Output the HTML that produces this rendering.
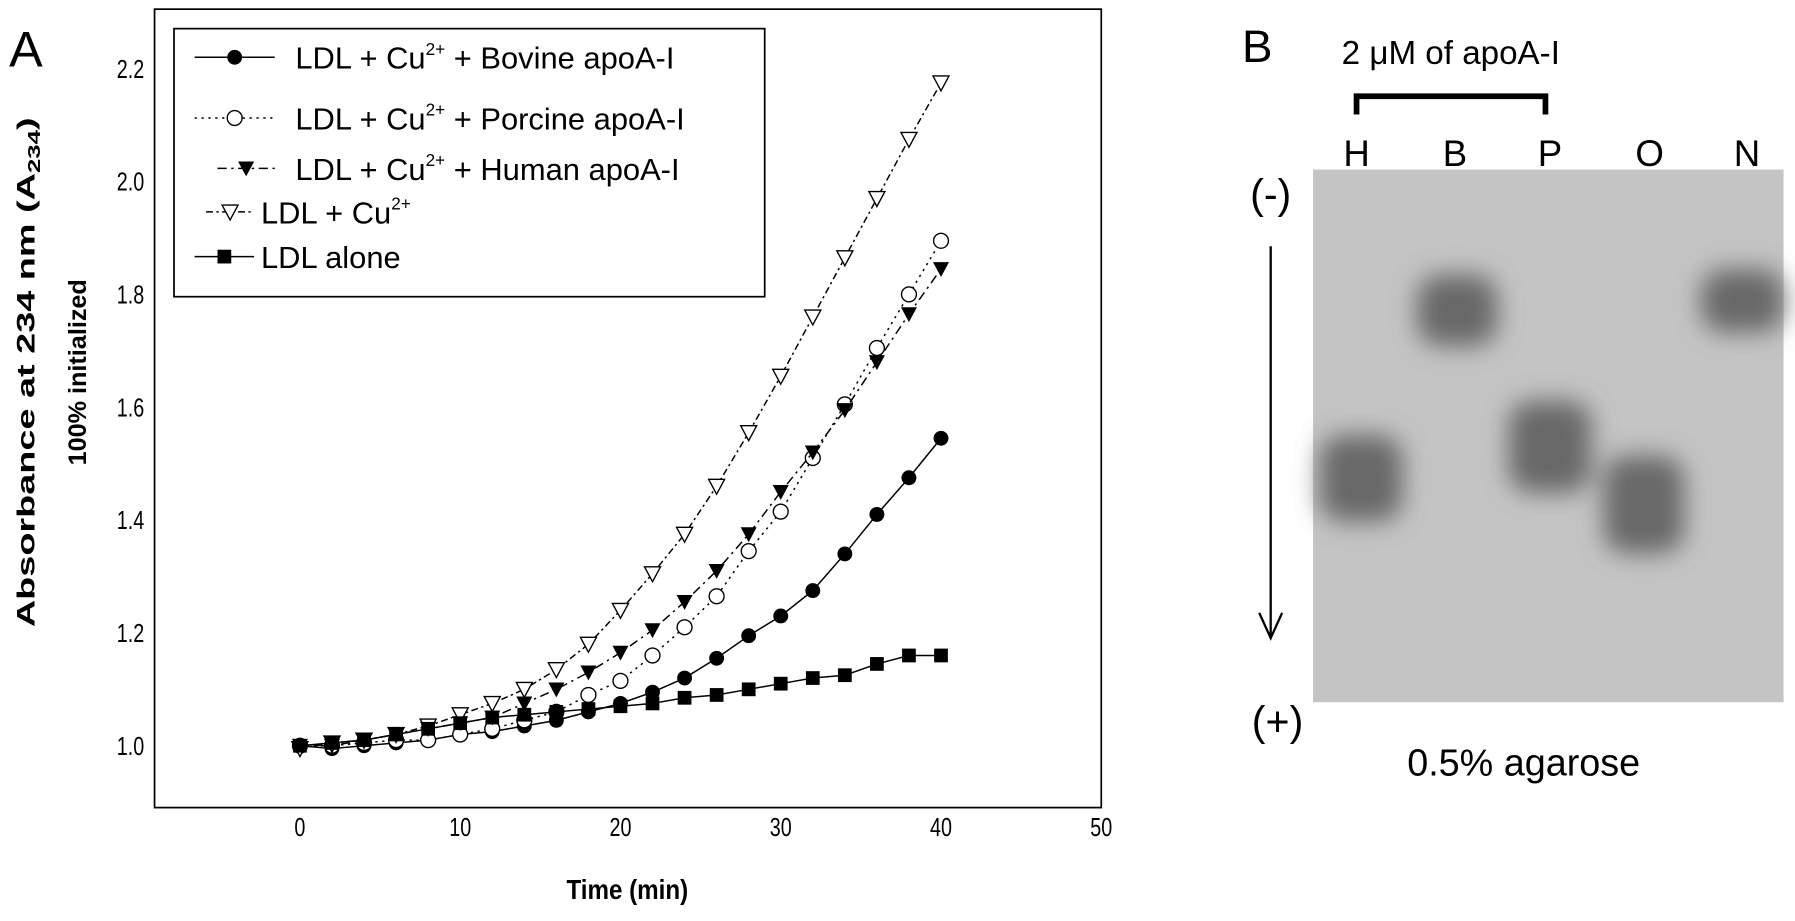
<!DOCTYPE html>
<html><head><meta charset="utf-8"><style>
html,body{margin:0;padding:0;background:#fff;}
svg{display:block;font-family:"Liberation Sans",sans-serif;}
</style></head><body>
<svg id="fig" width="1795" height="921" viewBox="0 0 1568 804" preserveAspectRatio="none">
<defs>
<filter id="blur" x="-50%" y="-50%" width="200%" height="200%"><feGaussianBlur stdDeviation="11"/></filter>
</defs>
<text x="8" y="58" font-size="44">A</text>
<rect x="135" y="8" width="827" height="697" fill="none" stroke="#000" stroke-width="1.5"/>
<g id="axes"></g>
<g id="series"></g>
<text x="548" y="785" font-size="24" font-weight="bold" text-anchor="middle" transform="translate(548 0) scale(0.88 1) translate(-548 0)">Time (min)</text>
<g transform="translate(30 325) rotate(-90)">
<text x="0" y="0" font-size="22" font-weight="bold" text-anchor="middle" textLength="445" lengthAdjust="spacingAndGlyphs">Absorbance at 234 nm (A<tspan font-size="15" dy="5">234</tspan><tspan dy="-5">)</tspan></text>
<text x="0" y="45" font-size="22" font-weight="bold" text-anchor="middle">100% initialized</text>
</g>
<rect x="152" y="25" width="516" height="234" fill="#fff" stroke="#000" stroke-width="1.5"/>
<g id="legend"></g>

<text x="1085" y="54" font-size="40">B</text>
<text x="1172" y="56" font-size="29">2 μM of apoA-I</text>
<path d="M1185 100 V84 H1350 V100" fill="none" stroke="#000" stroke-width="5"/>
<g font-size="32" text-anchor="middle">
<text x="1185" y="145">H</text><text x="1271" y="145">B</text><text x="1354" y="145">P</text><text x="1441" y="145">O</text><text x="1526" y="145">N</text>
</g>
<rect x="1147" y="148" width="411" height="465" fill="#c4c4c4"/>
<g filter="url(#blur)" fill="#676767">
<rect x="1153" y="380" width="72" height="75" rx="20"/>
<rect x="1238" y="240" width="70" height="62" rx="20"/>
<rect x="1318" y="350" width="72" height="80" rx="20"/>
<rect x="1401" y="398" width="70" height="85" rx="20"/>
<rect x="1486" y="235" width="72" height="55" rx="20"/>
</g>
<text x="1110" y="182" font-size="36" text-anchor="middle">(-)</text>
<line x1="1110" y1="215" x2="1110" y2="555" stroke="#000" stroke-width="2"/>
<path d="M1100 535 L1110 557 L1120 535" fill="none" stroke="#000" stroke-width="2"/>
<text x="1116" y="642" font-size="36" text-anchor="middle">(+)</text>
<text x="1331" y="677" font-size="33" text-anchor="middle">0.5% agarose</text>
</svg>
<script>
const times=[0,2,4,6,8,10,12,14,16,18,20,22,24,26,28,30,32,34,36,38,40];
const bovine=[1.0,0.995,1.0,1.005,1.01,1.02,1.025,1.035,1.045,1.06,1.075,1.095,1.12,1.155,1.195,1.23,1.275,1.34,1.41,1.475,1.545];
const porcine=[1.0,1.0,1.005,1.01,1.01,1.02,1.03,1.045,1.06,1.09,1.115,1.16,1.21,1.265,1.345,1.415,1.51,1.605,1.705,1.8,1.895];
const human=[1.0,1.0,1.01,1.02,1.03,1.04,1.05,1.075,1.1,1.13,1.165,1.205,1.255,1.31,1.375,1.45,1.52,1.595,1.68,1.765,1.845];
const copper=[0.995,1.005,1.01,1.02,1.035,1.055,1.075,1.1,1.135,1.18,1.24,1.305,1.375,1.46,1.555,1.655,1.76,1.865,1.97,2.075,2.175];
const alone=[1.0,1.005,1.01,1.02,1.03,1.04,1.05,1.055,1.06,1.065,1.07,1.075,1.085,1.09,1.1,1.11,1.12,1.125,1.145,1.16,1.16];
const xTicks=[0,10,20,30,40,50];
const yTicks=[1.0,1.2,1.4,1.6,1.8,2.0,2.2];
const NS="http://www.w3.org/2000/svg";
const xs=v=>262+v*14;
const ys=v=>651-(v-1)*492.5;
function mk(t,a,p){const e=document.createElementNS(NS,t);for(const k in a)e.setAttribute(k,a[k]);p.appendChild(e);return e;}
const ax=document.getElementById('axes');
xTicks.forEach(t=>{
 const e=mk('text',{x:xs(t),y:730,'font-size':23,'text-anchor':'middle',transform:`translate(${xs(t)} 0) scale(0.75 1) translate(${-xs(t)} 0)`},ax);
 
 
 e.textContent=t;
});
yTicks.forEach(t=>{
 const e=mk('text',{x:126,y:ys(t)+8,'font-size':23,'text-anchor':'end',transform:`translate(126 0) scale(0.75 1) translate(-126 0)`},ax);
 
 
 e.textContent=t.toFixed(1);
});
function marker(g,type,x,y){
 let e;
 if(type==='fc')e=mk('circle',{cx:x,cy:y,r:6.5,fill:'#000'},g);
 else if(type==='oc')e=mk('circle',{cx:x,cy:y,r:6.5,fill:'#fff',stroke:'#000','stroke-width':1.2},g);
 else if(type==='ft')e=mk('path',{d:`M${x-7} ${y-6}L${x+7} ${y-6}L${x} ${y+7}Z`,fill:'#000'},g);
 else if(type==='ot')e=mk('path',{d:`M${x-7} ${y-6}L${x+7} ${y-6}L${x} ${y+7}Z`,fill:'#fff',stroke:'#000','stroke-width':1.2},g);
 else e=mk('rect',{x:x-6,y:y-6,width:12,height:12,fill:'#000'},g);
 return e;
}
const defs=[
 {name:'bovine',data:bovine,m:'fc',dash:'',label:['LDL + Cu','2+',' + Bovine apoA-I'],ly:50,lx:[170,240],tx:258},
 {name:'porcine',data:porcine,m:'oc',dash:'2 4',label:['LDL + Cu','2+',' + Porcine apoA-I'],ly:103,lx:[170,240],tx:258},
 {name:'human',data:human,m:'ft',dash:'8 4 2 4',label:['LDL + Cu','2+',' + Human apoA-I'],ly:147,lx:[190,240],tx:258},
 {name:'copper',data:copper,m:'ot',dash:'6 3 2 3',label:['LDL + Cu','2+',''],ly:185,lx:[180,222],tx:228},
 {name:'alone',data:alone,m:'sq',dash:'',label:['LDL alone','',''],ly:224,lx:[170,222],tx:228}
];
const sg=document.getElementById('series');
defs.forEach(s=>{
 const g=mk('g',{},sg);
 
 
 const d=s.data.map((v,i)=>(i?'L':'M')+xs(times[i])+' '+ys(v)).join('');
 const p=mk('path',{d:d,fill:'none',stroke:'#000','stroke-width':1.3,'stroke-dasharray':s.dash},g);
 
 
 s.data.forEach((v,i)=>{
  const e=marker(g,s.m,xs(times[i]),ys(v));
  
  
 });
});
const lg=document.getElementById('legend');
defs.forEach(s=>{
 const g=mk('g',{},lg);
 
 
 mk('line',{x1:s.lx[0],y1:s.ly,x2:s.lx[1],y2:s.ly,stroke:'#000','stroke-width':1.3,'stroke-dasharray':s.dash},g);
 marker(g,s.m,(s.lx[0]+s.lx[1])/2,s.ly);
 const t=mk('text',{x:s.tx,y:s.ly+10,'font-size':27},g);
 const a=mk('tspan',{},t);a.textContent=s.label[0];
 if(s.label[1]){const b=mk('tspan',{'font-size':15,dy:-12},t);b.textContent=s.label[1];
  const c=mk('tspan',{dy:12},t);c.textContent=s.label[2];}
});
</script>
</body></html>
